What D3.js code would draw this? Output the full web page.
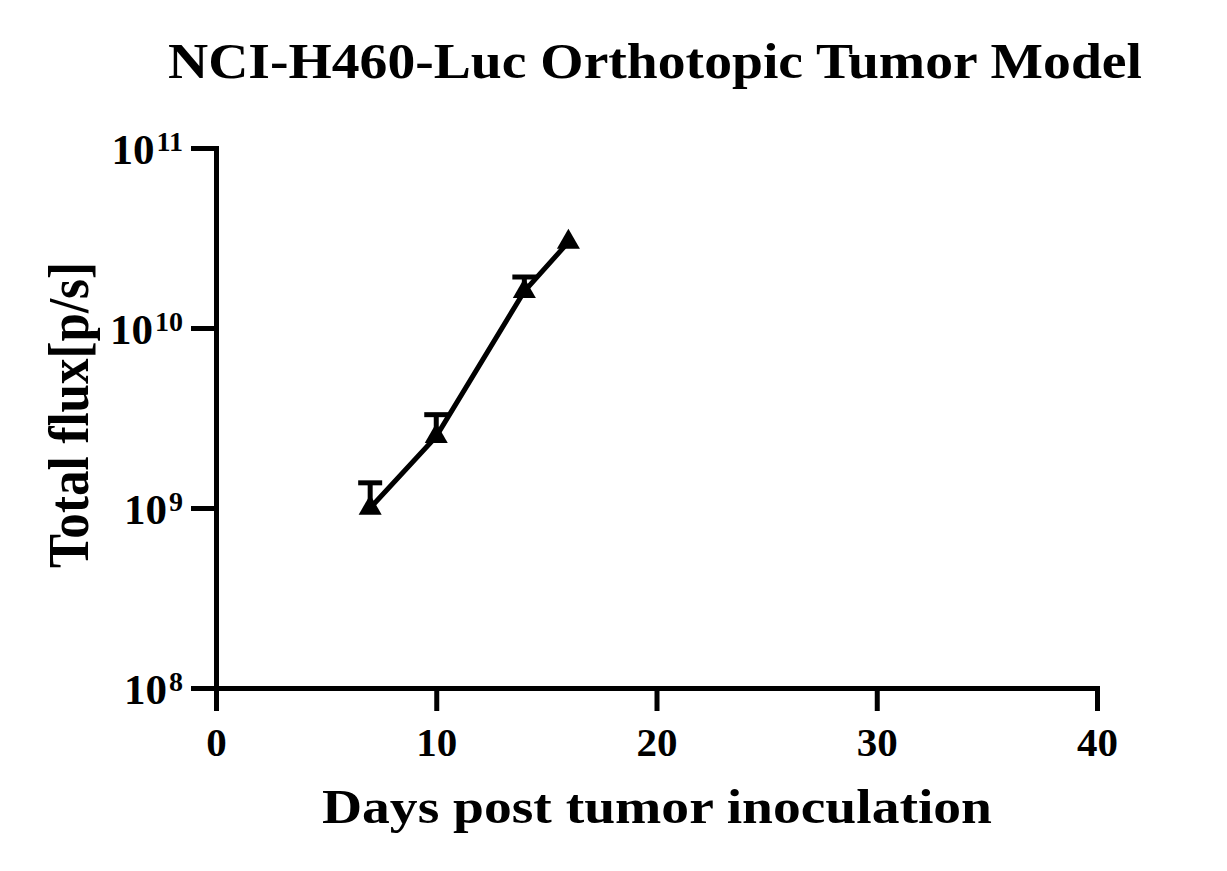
<!DOCTYPE html>
<html><head><meta charset="utf-8">
<script src="https://cdn.jsdelivr.net/npm/d3@7"></script>
<style>body{margin:0;background:#fff}svg{display:block}</style>
</head><body>
<svg id="c" width="1227" height="871"></svg>
<script>
const days = [7, 10, 14, 16];
const flux = [1.0e9, 2.5e9, 1.6e10, 3.0e10];
const errTop = [1.38e9, 3.3e9, 1.92e10, null];
const xTicks = [0, 10, 20, 30, 40];
const yTicks = [1e8, 1e9, 1e10, 1e11];
const yExp = ["8", "9", "10", "11"];
const title = "NCI-H460-Luc Orthotopic Tumor Model";
const xLabel = "Days post tumor inoculation";
const yLabel = "Total flux[p/s]";

const svg = d3.select("#c");
const font = "'Liberation Serif','Times New Roman',serif";
const x = d3.scaleLinear().domain([0, 40]).range([216, 1097]);
const y = d3.scaleLog().domain([1e8, 1e11]).range([688, 148]);

// title
svg.append("text").attr("x", 655).attr("y", 78).attr("text-anchor", "middle")
  .attr("font-family", font).attr("font-weight", "bold").attr("font-size", 50)
  .attr("textLength", 974).attr("lengthAdjust", "spacingAndGlyphs").text(title);

// x axis
const gx = svg.append("g").attr("transform", `translate(0,${y(1e8)})`)
  .call(d3.axisBottom(x).tickValues(xTicks).tickSize(23).tickSizeOuter(0).tickPadding(16).tickFormat(d3.format("d")));
gx.select(".domain").attr("stroke-width", 5).attr("stroke-linecap", "square");
gx.selectAll(".tick line").attr("stroke-width", 5);
gx.selectAll(".tick text").attr("font-family", font).attr("font-weight", "bold").attr("font-size", 41).attr("fill", "#000");

// y axis
const gy = svg.append("g").attr("transform", `translate(${x(0)},0)`)
  .call(d3.axisLeft(y).tickValues(yTicks).tickSize(25).tickSizeOuter(0).tickFormat(() => ""));
gy.select(".domain").attr("stroke-width", 5).attr("stroke-linecap", "square");
gy.selectAll(".tick line").attr("stroke-width", 5);
gy.selectAll(".tick").each(function(d, i) {
  const t = d3.select(this).select("text").text(null)
    .attr("x", -33).attr("dy", null).attr("y", 15)
    .attr("font-family", font).attr("font-weight", "bold").attr("fill", "#000").attr("text-anchor", "end");
  t.append("tspan").attr("font-size", 43).text("10");
  t.append("tspan").attr("font-size", 28).attr("dy", -13).attr("dx", 2).text(yExp[i]);
});

// axis labels
svg.append("text").attr("x", 657).attr("y", 823).attr("text-anchor", "middle")
  .attr("font-family", font).attr("font-weight", "bold").attr("font-size", 48)
  .attr("textLength", 670).attr("lengthAdjust", "spacingAndGlyphs").text(xLabel);
svg.append("text").attr("transform", "translate(88,415) rotate(-90)").attr("text-anchor", "middle")
  .attr("font-family", font).attr("font-weight", "bold").attr("font-size", 56)
  .attr("textLength", 306).attr("lengthAdjust", "spacingAndGlyphs").text(yLabel);

const data = days.map((d, i) => ({d, v: flux[i], e: errTop[i]}));

// error bars
const eb = svg.append("g").attr("stroke", "#000").attr("stroke-width", 5);
data.filter(p => p.e).forEach(p => {
  eb.append("line").attr("x1", x(p.d)).attr("x2", x(p.d)).attr("y1", y(p.v)).attr("y2", y(p.e));
  eb.append("line").attr("x1", x(p.d) - 12).attr("x2", x(p.d) + 12).attr("y1", y(p.e)).attr("y2", y(p.e));
});

// line
svg.append("path").datum(data)
  .attr("d", d3.line().x(p => x(p.d)).y(p => y(p.v)))
  .attr("fill", "none").attr("stroke", "#000").attr("stroke-width", 5);

// markers
svg.append("g").selectAll("path").data(data).join("path")
  .attr("transform", p => `translate(${x(p.d)},${y(p.v)})`)
  .attr("d", d3.symbol(d3.symbolTriangle, 230))
  .attr("fill", "#000");
</script>
</body></html>
